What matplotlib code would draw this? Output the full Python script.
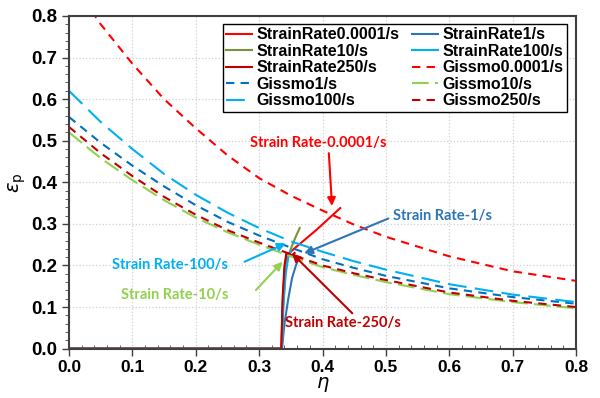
import matplotlib
matplotlib.use('Agg')
import matplotlib.pyplot as plt
from matplotlib.ticker import MultipleLocator, FormatStrFormatter

# experimental loading paths (eta, plastic strain)
sr_eta = {
    '0.0001': [0.0, 0.335, 0.337, 0.340, 0.344, 0.355, 0.390, 0.428],
    '1':      [0.0, 0.336, 0.340, 0.346, 0.352, 0.358, 0.362],
    '10':     [0.0, 0.336, 0.338, 0.342, 0.350, 0.358, 0.364],
    '100':    [0.0, 0.336, 0.338, 0.342, 0.346, 0.350],
    '250':    [0.0, 0.335, 0.337, 0.340, 0.343, 0.352, 0.356],
}
sr_eps = {
    '0.0001': [0.0, 0.0, 0.10, 0.19, 0.225, 0.240, 0.285, 0.338],
    '1':      [0.0, 0.0, 0.06, 0.12, 0.17, 0.20, 0.215],
    '10':     [0.0, 0.0, 0.10, 0.20, 0.24, 0.27, 0.29],
    '100':    [0.0, 0.0, 0.10, 0.18, 0.22, 0.235],
    '250':    [0.0, 0.0, 0.12, 0.20, 0.23, 0.225, 0.23],
}

# Gissmo failure curves
g_eta = [0.0, 0.05, 0.1, 0.15, 0.2, 0.25, 0.3, 0.35, 0.4, 0.45, 0.5, 0.6, 0.7, 0.8]
g_eps = {
    '0.0001': [0.89, 0.78, 0.685, 0.60, 0.53, 0.465, 0.41, 0.368, 0.332, 0.298, 0.269, 0.222, 0.186, 0.163],
    '1':      [0.557, 0.495, 0.44, 0.39, 0.345, 0.305, 0.272, 0.243, 0.215, 0.194, 0.175, 0.145, 0.124, 0.108],
    '10':     [0.52, 0.458, 0.405, 0.357, 0.315, 0.28, 0.25, 0.222, 0.196, 0.177, 0.16, 0.131, 0.112, 0.097],
    '100':    [0.62, 0.545, 0.48, 0.42, 0.37, 0.327, 0.29, 0.258, 0.233, 0.21, 0.19, 0.155, 0.13, 0.112],
    '250':    [0.533, 0.47, 0.415, 0.365, 0.322, 0.285, 0.255, 0.227, 0.20, 0.181, 0.165, 0.135, 0.115, 0.10],
}

sr_col = {'0.0001': '#FF0000', '1': '#2E75B6', '10': '#77933C', '100': '#00B0F0', '250': '#C00000'}
g_col = {'0.0001': '#FF0000', '1': '#0070C0', '10': '#92D050', '100': '#00B0F0', '250': '#C00000'}
g_dash = {'0.0001': (4, 3), '1': (4, 3), '10': (8, 3), '100': (9, 4), '250': (4, 3)}

plt.rcParams['font.family'] = ['Liberation Sans', 'DejaVu Sans']
fig = plt.figure(figsize=(6, 3.98), dpi=100)
ax = fig.add_axes([0.115, 0.124, 0.845, 0.836])

h = {}
for k in sr_eta:
    h['s' + k], = ax.plot(sr_eta[k], sr_eps[k], color=sr_col[k], lw=1.5,
                          label='StrainRate' + k + '/s')
for k in g_eps:
    h['g' + k], = ax.plot(g_eta, g_eps[k], color=g_col[k], lw=1.5, dashes=g_dash[k],
                          label='Gissmo' + k + '/s')

order = ['s0.0001', 's10', 's250', 'g1', 'g100', 's1', 's100', 'g0.0001', 'g10', 'g250']
leg = ax.legend([h[o] for o in order], [h[o].get_label() for o in order], ncol=2,
                loc='upper right', bbox_to_anchor=(0.982, 0.976), borderaxespad=0,
                fancybox=False, edgecolor='black', framealpha=1,
                prop={'weight': 'bold', 'size': 11.5},
                handlelength=1.6, handletextpad=0.3, columnspacing=0.8,
                labelspacing=0.1, borderpad=0.2)
leg.get_frame().set_linewidth(1.0)

ann_font = dict(family=['Lato', 'DejaVu Sans'], weight='bold', size=10.5)
notes = [
    ('Strain Rate-0.0001/s', '#FF0000', (0.394, 0.494), (0.415, 0.343), (0.41, 0.47)),
    ('Strain Rate-1/s', '#2E75B6', (0.59, 0.32), (0.371, 0.229), (0.504, 0.313)),
    ('Strain Rate-100/s', '#00B0F0', (0.159, 0.20), (0.342, 0.253), (0.277, 0.209)),
    ('Strain Rate-10/s', '#92D050', (0.167, 0.129), (0.337, 0.209), (0.295, 0.141)),
    ('Strain Rate-250/s', '#C00000', (0.433, 0.061), (0.352, 0.229), (0.447, 0.085)),
]
for txt, c, tpos, tip, tail in notes:
    ax.text(tpos[0], tpos[1], txt, color=c, ha='center', va='center', **ann_font)
    ax.annotate('', xy=tip, xytext=tail,
                arrowprops=dict(arrowstyle='-|>', color=c, lw=1.5, mutation_scale=12,
                                shrinkA=0, shrinkB=0))

ax.set_xlim(0, 0.8)
ax.set_ylim(0, 0.8)
ax.xaxis.set_major_locator(MultipleLocator(0.1))
ax.yaxis.set_major_locator(MultipleLocator(0.1))
ax.xaxis.set_minor_locator(MultipleLocator(0.02))
ax.yaxis.set_minor_locator(MultipleLocator(0.02))
ax.xaxis.set_major_formatter(FormatStrFormatter('%.1f'))
ax.yaxis.set_major_formatter(FormatStrFormatter('%.1f'))
ax.tick_params(which='major', direction='out', length=5, width=1, color='#404040')
ax.tick_params(axis='x', which='major', labelsize=12.5)
ax.tick_params(axis='y', which='major', labelsize=13.5)
ax.tick_params(axis='x', which='minor', direction='in', length=3, color='#404040')
ax.tick_params(axis='y', which='minor', direction='out', length=3, color='#404040')
for lab in ax.get_xticklabels() + ax.get_yticklabels():
    lab.set_fontweight('bold')
ax.grid(True, which='major', color='#D0D0D0', ls=':', lw=0.9)
for s in ax.spines.values():
    s.set_color('#404040')
    s.set_linewidth(1.5)

ax.set_xlabel(r'$\eta$', fontsize=14, labelpad=0)
ax.set_ylabel(r'$\varepsilon_\mathrm{p}$', fontsize=14, rotation=90, labelpad=2)

fig.savefig('out.png', dpi=100)
